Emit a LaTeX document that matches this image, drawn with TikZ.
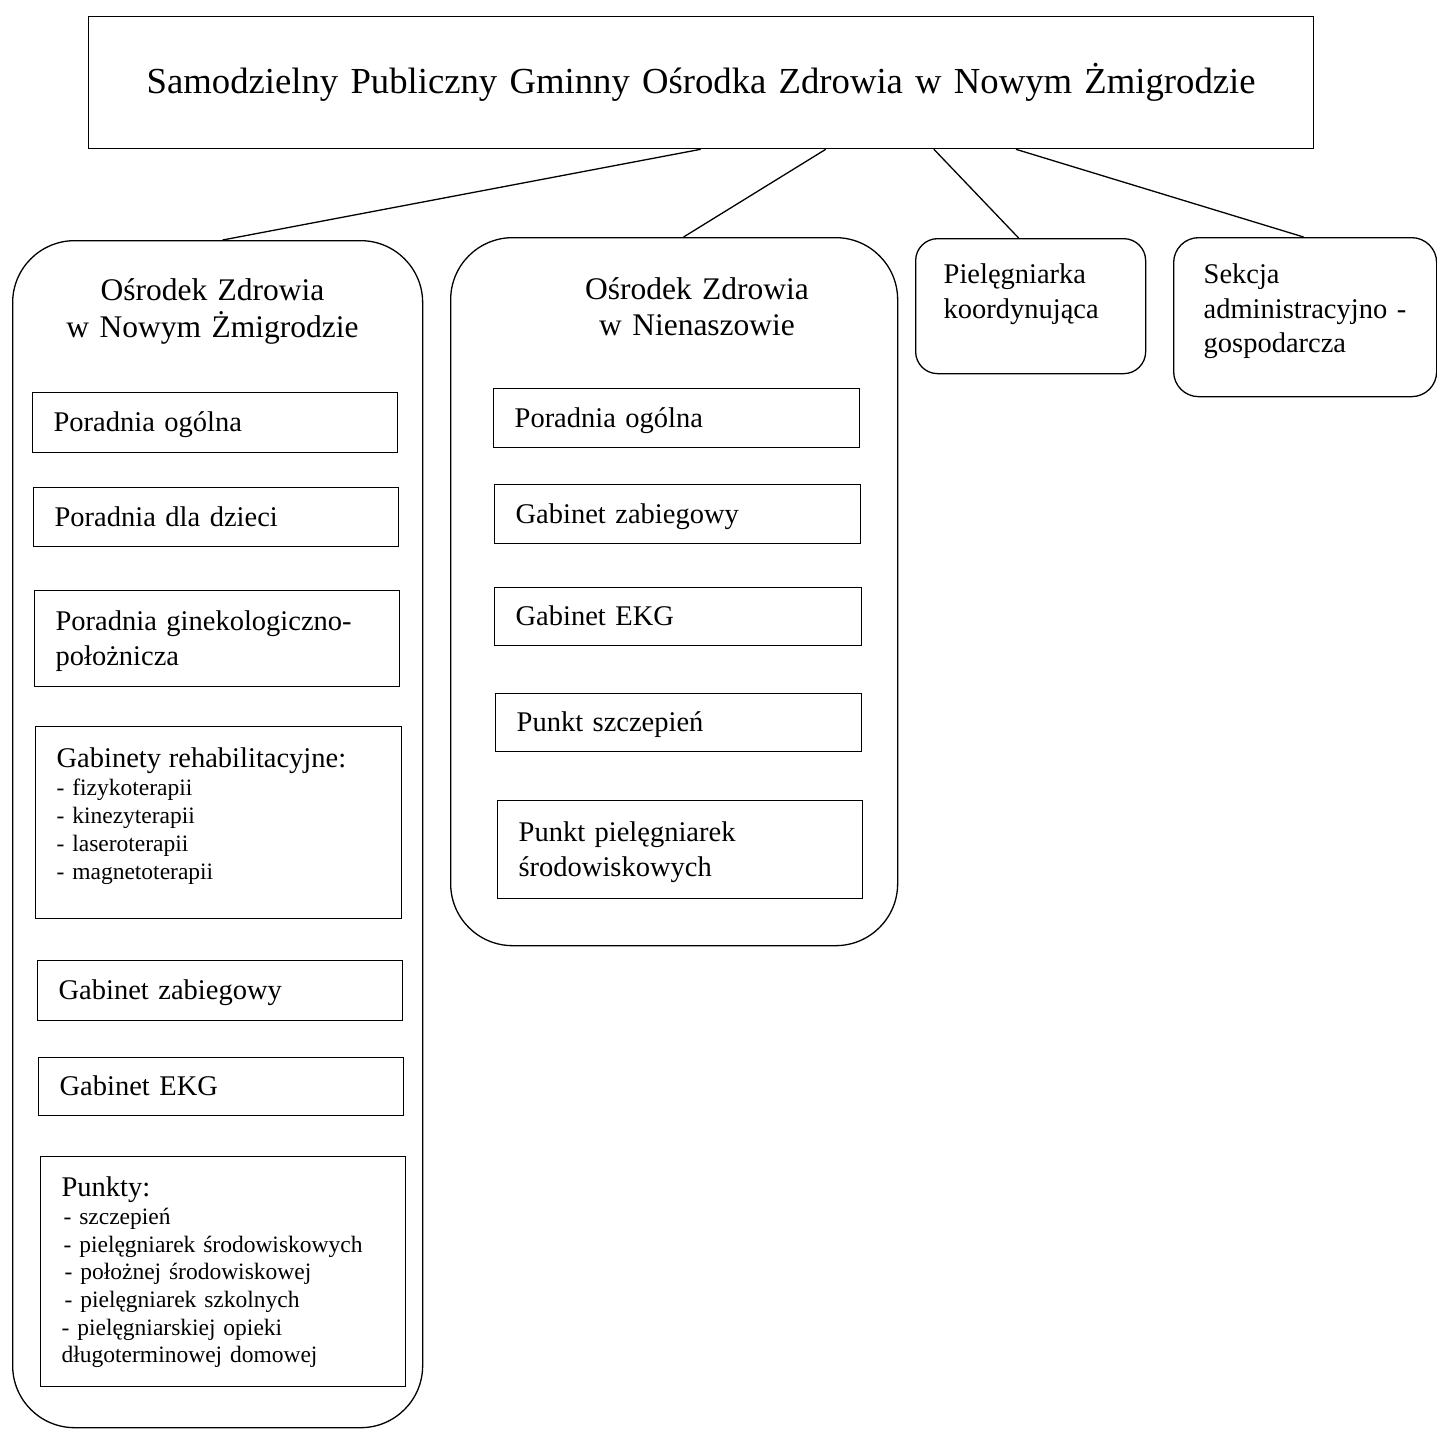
\documentclass[tikz,border=0pt]{standalone}
\usepackage{fontspec}
\setmainfont{Liberation Serif}
\usetikzlibrary{calc}
\begin{document}
\begin{tikzpicture}[x=1pt,y=-1pt,line width=1.3pt,
  dp/.style={execute at end node={\rule[-#1]{0pt}{0pt}}},
  box/.style={draw, rectangle, anchor=north west, inner xsep=21pt, inner ysep=0pt, align=left,
    font=\fontsize{28.5}{35}\selectfont, execute at begin node={\rule{0pt}{25pt}}, dp=7pt},
  listbox/.style={box, font=\fontsize{23.5}{27.7}\selectfont},
  cont/.style={draw, rectangle, anchor=north west, inner sep=0pt, rounded corners=#1},
  ttl/.style={anchor=north, inner sep=0pt, align=center, font=\fontsize{31.5}{37}\selectfont,
    text width=420pt, execute at begin node={\rule{0pt}{25pt}}},
  conn/.style={draw, line width=1.3pt}
]
\newcommand{\headfont}{\fontsize{28.5}{30}\selectfont}
\useasboundingbox (0,0) rectangle (1437,1428);

% top box
\node[draw, rectangle, anchor=north west, inner sep=0pt, text width=1225pt, minimum height=132pt,
  align=center, font=\fontsize{36.7}{44}\selectfont,
  execute at begin node={\rule{0pt}{32pt}}, execute at end node={\rule[-10pt]{0pt}{0pt}}]
  (T) at (88,16) {Samodzielny Publiczny Gminny Ośrodka Zdrowia w Nowym Żmigrodzie};

% containers
\node[cont=62pt, minimum width=410pt, minimum height=1187pt] (L) at (12,240) {};
\node[cont=62pt, minimum width=447pt, minimum height=708pt] (M) at (450,237) {};

\node[box, rounded corners=22pt, inner xsep=28pt, text width=174pt, minimum height=135pt,
  font=\fontsize{28.5}{34.5}\selectfont, dp=35.5pt] (P) at (915,238) {Pielęgniarka\\koordynująca};
\node[box, rounded corners=25pt, inner xsep=30pt, text width=203pt, minimum height=159pt,
  font=\fontsize{28.5}{34.5}\selectfont, dp=23pt] (S) at (1173,237)
  {Sekcja\\\mbox{administracyjno~-}\\gospodarcza};

% container titles
\node[ttl] (Lt) at (212.5,275) {Ośrodek Zdrowia\\w Nowym Żmigrodzie};
\node[ttl, font=\fontsize{31.5}{36}\selectfont] (Mt) at (697,274) {Ośrodek Zdrowia\\w Nienaszowie};

% left column
\node[box, text width=323pt, minimum height=60pt] (l1) at (32,392) {Poradnia ogólna};
\node[box, text width=323pt, minimum height=59pt] (l2) at (33,487) {Poradnia dla dzieci};
\node[box, text width=323pt, minimum height=96pt] (l3) at (34,590) {Poradnia ginekologiczno-\\położnicza};
\node[listbox, text width=324pt, minimum height=192pt, dp=24pt] (l4) at (35,726)
  {{\headfont Gabinety rehabilitacyjne:}\\[1pt]- fizykoterapii\\- kinezyterapii\\- laseroterapii\\- magnetoterapii};
\node[box, text width=323pt, minimum height=60pt] (l5) at (37,960) {Gabinet zabiegowy};
\node[box, text width=323pt, minimum height=58pt] (l6) at (38,1057) {Gabinet EKG};
\node[listbox, text width=323pt, minimum height=230pt, dp=9pt] (l7) at (40,1156)
  {{\headfont Punkty:}\\[0.4pt]\hspace*{2pt}- szczepień\\\hspace*{2pt}- pielęgniarek środowiskowych\\\hspace*{3pt}- położnej środowiskowej\\\hspace*{3pt}- pielęgniarek szkolnych\\- pielęgniarskiej opieki\\długoterminowej domowej};

% middle column
\node[box, text width=324pt, minimum height=59pt] (m1) at (493,388) {Poradnia ogólna};
\node[box, text width=324pt, minimum height=59pt] (m2) at (494,484) {Gabinet zabiegowy};
\node[box, text width=325pt, minimum height=58pt] (m3) at (494,587) {Gabinet EKG};
\node[box, text width=324pt, minimum height=58pt] (m4) at (495,693) {Punkt szczepień};
\node[box, text width=323pt, minimum height=98pt] (m5) at (497,800) {Punkt pielęgniarek\\środowiskowych};

% connectors
\draw[conn] ($(T.south west)!0.4996!(T.south east)$) -- ($(L.north west)!0.512!(L.north east)$);
\draw[conn] ($(T.south west)!0.6016!(T.south east)$) -- ($(M.north west)!0.521!(M.north east)$);
\draw[conn] ($(T.south west)!0.6898!(T.south east)$) -- ($(P.north west)!0.448!(P.north east)$);
\draw[conn] ($(T.south west)!0.7567!(T.south east)$) -- ($(S.north west)!0.494!(S.north east)$);
\end{tikzpicture}
\end{document}
